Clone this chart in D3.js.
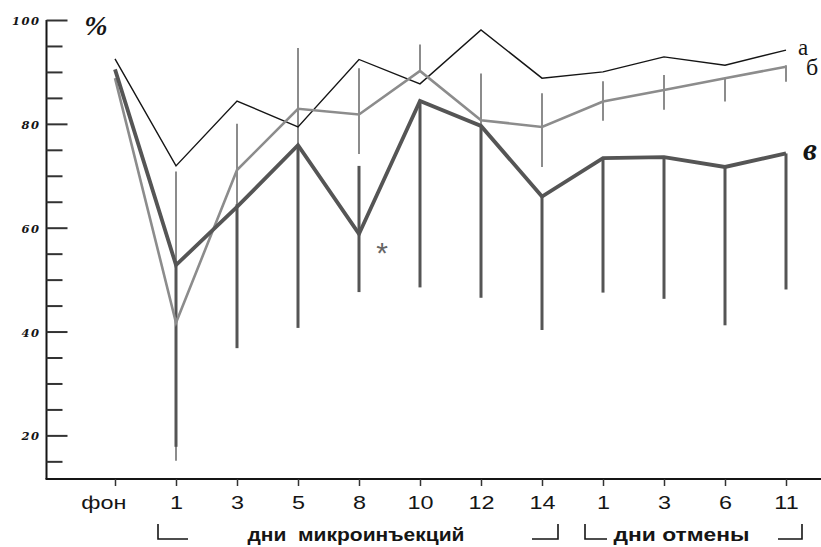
<!DOCTYPE html>
<html>
<head>
<meta charset="utf-8">
<script src="https://cdn.jsdelivr.net/npm/d3@7/dist/d3.min.js"></script>
<style>
  html, body { margin: 0; padding: 0; background: #fff; }
  svg { display: block; }
</style>
</head>
<body>
<svg id="chart" width="821" height="547"></svg>
<script>
// ---------------- DATA ----------------
const categories = ["фон", "1", "3", "5", "8", "10", "12", "14", "1", "3", "6", "11"];
const yTickLabels = [20, 40, 60, 80, 100];
const yMinorTicks = [15, 20, 25, 30, 35, 40, 45, 50, 55, 60, 65, 70, 75, 80, 85, 90, 95, 100];

// series "а" (thin black line)
const seriesA = [92.5, 71.9, 84.4, 79.4, 92.4, 87.7, 98.1, 88.8, 90.0, 92.9, 91.3, 94.2];
// series "б" (grey line) with its error bars
const seriesB   = [88.8, 41.7, 71.1, 82.9, 81.8, 90.2, 80.7, 79.4, 84.3, 86.5, 88.8, 91.0];
const seriesBHi = [null, 70.8, 80.0, 94.6, 90.7, 95.3, 89.7, 85.9, 88.2, 89.4, 88.8, 91.3];
const seriesBLo = [null, 15.1, 61.1, 69.8, 74.2, 90.2, 74.0, 71.7, 80.6, 82.7, 84.3, 88.1];
// series "в" (thick dark line) with its error bars
const seriesV   = [90.5, 52.8, 64.0, 75.9, 58.8, 84.4, 79.6, 66.0, 73.4, 73.6, 71.7, 74.3];
const seriesVHi = [null, 52.8, 64.5, 75.9, 71.9, 84.4, 79.6, 66.0, 73.4, 73.6, 71.7, 74.3];
const seriesVLo = [null, 17.8, 36.8, 40.7, 47.6, 48.5, 46.5, 40.3, 47.5, 46.3, 41.2, 48.1];

const seriesNames = ["а", "б", "в"];
const groupLabels = ["дни  микроинъекций", "дни отмены"];
const groupSpans = [[1, 7], [8, 11]];   // category index ranges
const significant = [4];               // index marked with * on series в

// ---------------- LAYOUT ----------------
const svg = d3.select("#chart");
const idx = categories.map((d, i) => String(i));

const x = d3.scalePoint().domain(idx).range([115, 786]);
const y = d3.scaleLinear().domain([11.6, 100]).range([479, 20]);
const axisX0 = 46.5;

const ink = "#151515";
const greyC = "#8c8c8c";
const darkC = "#555555";

// ---------------- Y AXIS ----------------
const yAxisG = svg.append("g").attr("transform", `translate(${axisX0},0)`);
yAxisG.append("line")
  .attr("x1", 0).attr("x2", 0)
  .attr("y1", y(100)).attr("y2", y.range()[0])
  .attr("stroke", ink).attr("stroke-width", 2);

const minorAxis = d3.axisRight(y).tickValues(yMinorTicks.filter(v => yTickLabels.indexOf(v) < 0))
  .tickSize(16).tickFormat("");
const minorG = yAxisG.append("g").call(minorAxis);
minorG.select(".domain").remove();
minorG.selectAll(".tick line").attr("stroke", "#333").attr("stroke-width", 2);

const majorAxis = d3.axisRight(y).tickValues(yTickLabels).tickSize(21).tickFormat("");
const majorG = yAxisG.append("g").call(majorAxis);
majorG.select(".domain").remove();
majorG.selectAll(".tick line").attr("stroke", "#333").attr("stroke-width", 2);

const labelAxis = d3.axisLeft(y).tickValues(yTickLabels).tickSize(0).tickPadding(6);
const labelG = yAxisG.append("g").call(labelAxis);
labelG.select(".domain").remove();
labelG.selectAll(".tick text")
  .attr("font-family", "'DejaVu Serif', serif")
  .attr("font-style", "italic")
  .attr("font-weight", "bold")
  .attr("font-size", 11.5)
  .attr("letter-spacing", "1.5px")
  .attr("fill", ink)
  .attr("dy", "0.4em");

svg.append("text")
  .attr("x", 96).attr("y", 35)
  .attr("text-anchor", "middle")
  .attr("font-family", "'Liberation Serif', serif")
  .attr("font-style", "italic").attr("font-weight", "bold")
  .attr("font-size", 28).attr("fill", ink)
  .text("%");

// ---------------- X AXIS ----------------
svg.append("line")
  .attr("x1", axisX0 - 1).attr("x2", 821)
  .attr("y1", 479).attr("y2", 479)
  .attr("stroke", ink).attr("stroke-width", 2);

const xAxis = d3.axisBottom(x).tickSize(7).tickPadding(10).tickFormat(d => categories[+d]);
const xG = svg.append("g").attr("transform", "translate(0,479)").call(xAxis);
xG.select(".domain").remove();
xG.selectAll(".tick line").attr("stroke", "#333").attr("stroke-width", 1.5);
xG.selectAll(".tick text")
  .attr("font-family", "'Liberation Sans', Arial, sans-serif")
  .attr("font-size", 18).attr("fill", ink)
  .attr("transform", "scale(1.3,1)");
// the first label sits a little left of its tick in the reference
xG.selectAll(".tick").filter(d => d === "0").select("text").attr("x", -9);

// group brackets and labels
const groupWidths = [217, 136];
const groupShift = [-2, -12];
const armLengths = [[30, 26], [22, 24]];
groupSpans.forEach((span, gi) => {
  const x1 = x(String(span[0])) - 18;
  const x2 = x(String(span[1])) + 16;
  const yb = 539;
  svg.append("path")
    .attr("d", `M${x1},${yb - 15}V${yb}H${x1 + armLengths[gi][0]}`)
    .attr("fill", "none").attr("stroke", ink).attr("stroke-width", 1.6);
  svg.append("path")
    .attr("d", `M${x2},${yb - 15}V${yb}H${x2 - armLengths[gi][1]}`)
    .attr("fill", "none").attr("stroke", ink).attr("stroke-width", 1.6);
  svg.append("text")
    .attr("x", (x1 + x2) / 2 + groupShift[gi])
    .attr("y", 541)
    .attr("text-anchor", "middle")
    .attr("font-family", "'Liberation Sans', Arial, sans-serif")
    .attr("font-weight", "bold")
    .attr("font-size", 18)
    .attr("textLength", groupWidths[gi])
    .attr("lengthAdjust", "spacingAndGlyphs")
    .attr("fill", ink)
    .style("white-space", "pre")
    .text(groupLabels[gi]);
});

// ---------------- ERROR BARS ----------------
function bars(hi, lo, color, width) {
  svg.append("g").selectAll("line")
    .data(hi.map((h, i) => ({ i, h, l: lo[i] })).filter(d => d.h != null))
    .join("line")
    .attr("x1", d => x(String(d.i))).attr("x2", d => x(String(d.i)))
    .attr("y1", d => y(d.h)).attr("y2", d => y(d.l))
    .attr("stroke", color).attr("stroke-width", width);
}
bars(seriesBHi, seriesBLo, greyC, 2);
bars(seriesVHi, seriesVLo, darkC, 3);

// ---------------- LINES ----------------
const line = d3.line().x((d, i) => x(String(i))).y(d => y(d));
svg.append("path").datum(seriesA).attr("d", line)
  .attr("fill", "none").attr("stroke", ink).attr("stroke-width", 1.4);
svg.append("path").datum(seriesB).attr("d", line)
  .attr("fill", "none").attr("stroke", greyC).attr("stroke-width", 2.6);
svg.append("path").datum(seriesV).attr("d", line)
  .attr("fill", "none").attr("stroke", darkC).attr("stroke-width", 3.8);

// significance mark
significant.forEach(i => {
  svg.append("text")
    .attr("x", x(String(i)) + 23).attr("y", y(seriesV[i]) + 29)
    .attr("text-anchor", "middle")
    .attr("font-family", "'Liberation Sans', Arial, sans-serif")
    .attr("font-size", 30).attr("fill", "#666")
    .text("*");
});

// series labels at line ends
const last = categories.length - 1;
const xl = x(String(last));
svg.append("text").attr("x", xl + 12).attr("y", y(seriesA[last]) + 5)
  .attr("font-family", "'Liberation Serif', serif").attr("font-size", 23).attr("fill", ink)
  .text(seriesNames[0]);
svg.append("text").attr("x", xl + 20).attr("y", y(seriesB[last]) + 8)
  .attr("font-family", "'Liberation Serif', serif").attr("font-size", 24).attr("fill", ink)
  .text(seriesNames[1]);
svg.append("text").attr("x", xl + 17).attr("y", y(seriesV[last]) + 7)
  .attr("font-family", "'Liberation Serif', serif").attr("font-style", "italic")
  .attr("font-weight", "bold").attr("font-size", 31).attr("fill", ink)
  .text(seriesNames[2]);
</script>
</body>
</html>
